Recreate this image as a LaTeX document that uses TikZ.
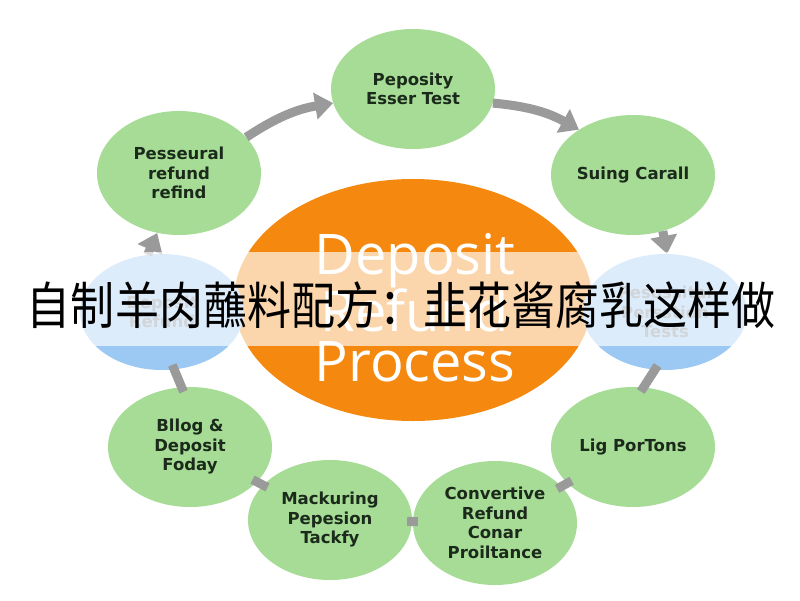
\documentclass[tikz,border=0pt]{standalone}
\usepackage{fontspec}
\setmainfont{DejaVu Sans}
\newfontfamily\cjk{Noto Sans CJK SC}
\newfontfamily\hubfont{Open Sans}
\usetikzlibrary{shapes.geometric,arrows.meta}

\definecolor{leaf}{HTML}{A6DC96}
\definecolor{amber}{HTML}{F5890F}
\definecolor{sky}{HTML}{9CC9F4}
\definecolor{link}{HTML}{9A9A9A}
\definecolor{ink}{HTML}{1B2A1B}
\definecolor{mute}{HTML}{7E8790}

\begin{document}
\begin{tikzpicture}[x=1pt,y=-1pt,
  stage/.style={ellipse, fill=leaf, minimum width=164pt, minimum height=120pt,
    inner sep=0pt, align=center, text=ink,
    font=\bfseries\fontsize{16.5}{19.5}\selectfont},
  bluestage/.style={stage, fill=sky, text=mute},
  hub/.style={ellipse, fill=amber, minimum width=358pt, minimum height=242pt,
    inner sep=0pt},
  flow/.style={draw=link, line width=9pt,
    -{Triangle[width=26pt,length=18pt]}},
  tie/.style={draw=link, line width=9pt, shorten <=-5pt, shorten >=-5pt},
]
\useasboundingbox (0,0) rectangle (800,600);
\fill[white] (0,0) rectangle (800,600);

% central process
\node[hub] (hub) at (413,300) {};
\node[text=white, align=center, inner sep=0pt,
  font=\hubfont\fontsize{56}{50}\selectfont] (hubtext) at (415,308)
  {Deposit\\Refund\\Process};

% ring of stages
\node[stage] (pe) at (413,89)  {Peposity\\Esser Test};
\node[stage] (ps) at (633,175) {Suing Carall};
\node[bluestage, minimum height=116pt] (rb) at (665,312) {Pesossital\\Persstion\\Tests};
\node[stage] (lp) at (633,447) {Lig PorTons};
\node[stage, minimum height=124pt] (cv) at (495,523) {Convertive\\Refund\\Conar\\Proiltance};
\node[stage] (mk) at (330,520) {Mackuring\\Pepesion\\Tackfy};
\node[stage] (bl) at (190,447) {Bllog \&\\Deposit\\Foday};
\node[bluestage, minimum height=116pt] (lb) at (162,312) {Deposit\\Refund};
\node[stage, minimum height=124pt] (pr) at (179,173) {Pesseural\\refund\\refind};

% arrows around the top
\draw[flow] (pr.28) to[bend left=12] (pe.190);
\draw[flow] (pe.-10) to[bend left=12] (ps.140);
\draw[flow] (ps.-62) -- (rb.88);
\draw[flow] (lb.104) -- (pr.250);

% plain links around the bottom
\draw[tie] (rb.-100) -- (lp.80);
\draw[tie] (lp) -- (cv);
\draw[tie] (cv) -- (mk);
\draw[tie] (mk) -- (bl);
\draw[tie] (bl.98) -- (lb.-78);

% pale caption band
\fill[white, opacity=0.65] (0,252) rectangle (800,346);
\node[font=\cjk\fontsize{44}{44}\selectfont, text=black, inner sep=0pt] (title) at (401,305)
  {\scalebox{1}[1.15]{自制羊肉蘸料配方：韭花酱腐乳这样做}};
\end{tikzpicture}
\end{document}
